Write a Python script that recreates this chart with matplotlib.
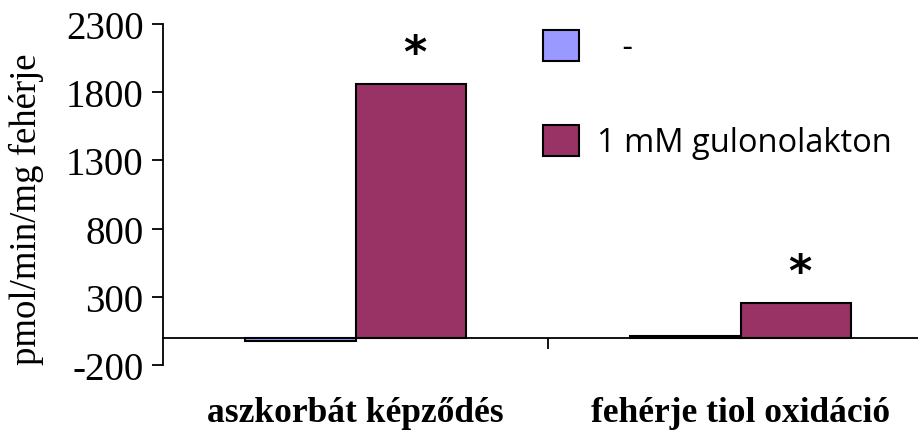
import matplotlib.pyplot as plt
import numpy as np
from matplotlib.transforms import blended_transform_factory

categories = ['aszkorbát képződés', 'fehérje tiol oxidáció']
series_names = ['-', '1 mM gulonolakton']
control = [-25, 10]
gulono = [1860, 258]
stars = ['*', '*']
yticks = [-200, 300, 800, 1300, 1800, 2300]

colors = ['#9999FF', '#993366']

fig = plt.figure(figsize=(9.18, 4.35), dpi=100)
ax = fig.add_axes([0.1776, 0.1586, 0.8388, 0.7839])

x = np.arange(len(categories))
w = 0.287
ax.bar(x - w / 2, control, w, color=colors[0], edgecolor='black', linewidth=1.5,
       label='   ' + series_names[0], zorder=2)
ax.bar(x + w / 2, gulono, w, color=colors[1], edgecolor='black', linewidth=1.5,
       label=series_names[1], zorder=2)

# significance marks
for i in range(len(categories)):
    ax.text(x[i] + w / 2 + 0.01, gulono[i] + 65, stars[i], ha='center', va='bottom',
            fontsize=32, fontweight='bold', family='DejaVu Sans')

ax.set_xlim(-0.5, 1.5)
ax.set_ylim(-200, 2300)
ax.set_yticks(yticks)
ax.set_yticklabels([str(v) for v in yticks], family='Liberation Serif', fontsize=28)
ax.tick_params(axis='y', direction='out', length=8, width=1.3, pad=6)

ax.spines['top'].set_visible(False)
ax.spines['right'].set_visible(False)
ax.spines['left'].set_linewidth(1.3)
ax.spines['bottom'].set_position(('data', 0))
ax.spines['bottom'].set_linewidth(1.3)
ax.set_xticks([0.5])
ax.set_xticklabels([])
ax.tick_params(axis='x', direction='out', length=8, width=1.3)

trans = blended_transform_factory(ax.transData, ax.transAxes)
for i, c in enumerate(categories):
    ax.text(x[i], -0.09, c, transform=trans, ha='center', va='top',
            family='Liberation Serif', fontweight='bold', fontsize=25.5)

ax.set_ylabel('pmol/min/mg fehérje', family='Liberation Serif', fontsize=26.5)
ax.yaxis.set_label_coords(-0.155, 0.46)

leg = ax.legend(loc='upper left', bbox_to_anchor=(0.455, 1.07), frameon=False,
                prop={'family': 'Open Sans', 'size': 23.5}, handlelength=1.1,
                handleheight=1.1, handletextpad=0.55, labelspacing=1.85)

fig.savefig('out.png', dpi=100)
